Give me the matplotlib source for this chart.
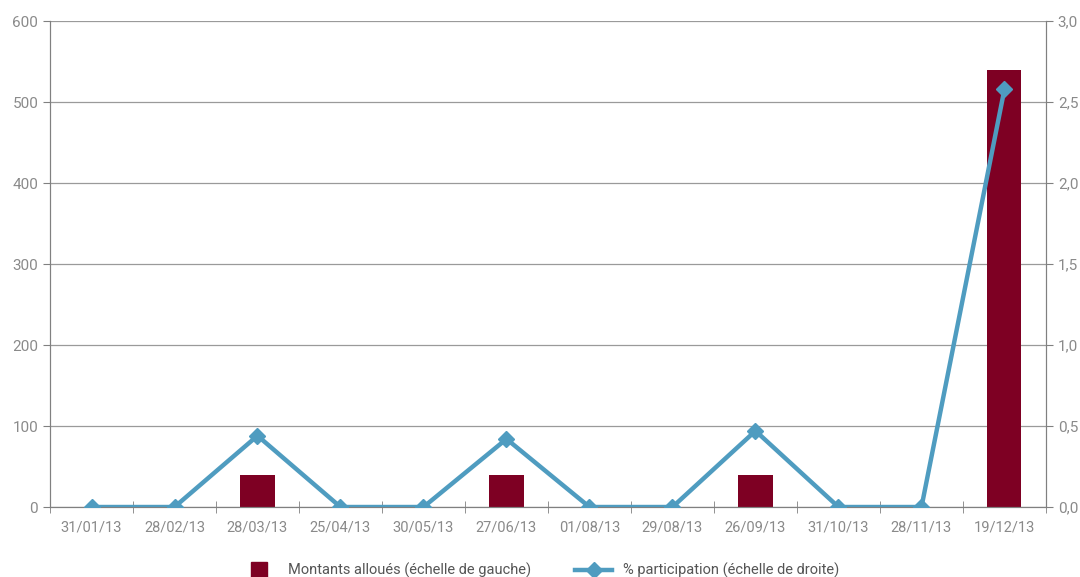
import numpy as np
import matplotlib.pyplot as plt
from matplotlib.lines import Line2D

plt.rcParams['font.family'] = ['Roboto', 'DejaVu Sans']

# data
dates = ['31/01/13', '28/02/13', '28/03/13', '25/04/13', '30/05/13', '27/06/13',
         '01/08/13', '29/08/13', '26/09/13', '31/10/13', '28/11/13', '19/12/13']
montants = [0, 0, 40, 0, 0, 40, 0, 0, 40, 0, 0, 540]
participation = [0, 0, 0.44, 0, 0, 0.42, 0, 0, 0.47, 0, 0, 2.58]

bar_col = '#7e0023'
line_col = '#4f9cc0'
txt_col = '#8a8a8a'
axis_col = '#808080'

fig = plt.figure(figsize=(10.8, 5.77), dpi=100)
ax = fig.add_axes([0.0463, 0.1213, 0.9222, 0.8423])
bx = ax.twinx()

x = np.arange(len(dates))
ax.bar(x, montants, width=0.41, color=bar_col, zorder=2)
bx.plot(x, participation, color=line_col, lw=3.2, marker='D', ms=8, zorder=3)

ax.set_xlim(-0.5, len(dates) - 0.5)
ax.set_ylim(0, 600)
bx.set_ylim(0, 3)
ax.set_yticks(np.arange(0, 601, 100))
rticks = np.arange(0, 3.01, 0.5)
bx.set_yticks(rticks)
bx.set_yticklabels([('%.1f' % v).replace('.', ',') for v in rticks])

ax.set_xticks(x)
ax.set_xticklabels(dates)
ax.set_xticks(np.arange(-0.5, len(dates)), minor=True)
ax.tick_params(axis='x', which='major', length=0, pad=10, colors=txt_col, labelsize=10.5)
ax.tick_params(axis='x', which='minor', length=8, direction='inout', color=axis_col)
ax.tick_params(axis='y', length=5, color=axis_col, labelcolor=txt_col, labelsize=11)
bx.tick_params(axis='y', length=5, color=axis_col, labelcolor=txt_col, labelsize=11)

ax.grid(axis='y', color='#9a9a9a', lw=0.9, zorder=0)
ax.set_axisbelow(True)
for a in (ax, bx):
    a.spines['top'].set_visible(False)
    for s in ('left', 'right', 'bottom'):
        a.spines[s].set_color(axis_col)
bx.set_zorder(ax.get_zorder() + 1)
bx.patch.set_visible(False)

handles = [Line2D([], [], ls='none', marker='s', ms=12, color=bar_col),
           Line2D([], [], color=line_col, lw=3.2, marker='D', ms=8)]
labels = ['Montants alloués (échelle de gauche)', '% participation (échelle de droite)']
fig.legend(handles, labels, loc='lower center', ncol=2, frameon=False,
           bbox_to_anchor=(0.5, -0.025), fontsize=10.5, labelcolor='#555555',
           columnspacing=3, handlelength=2.5)

fig.savefig('out.png', dpi=100)
